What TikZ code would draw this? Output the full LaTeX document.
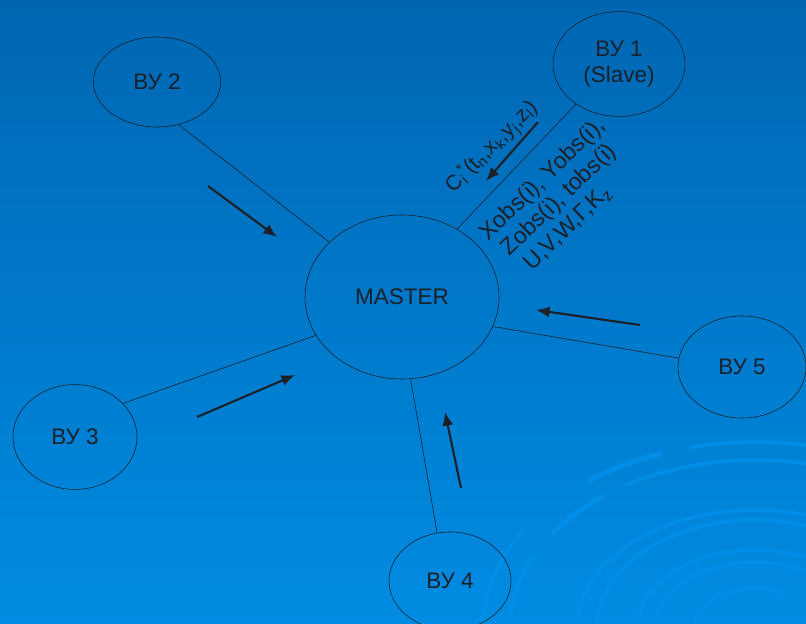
\documentclass[tikz,border=0pt]{standalone}
\usepackage{fontspec}
\setmainfont{Liberation Sans}
\usetikzlibrary{shapes.geometric,arrows.meta}
\definecolor{slidetop}{RGB}{0,102,178}
\definecolor{slidebottom}{RGB}{0,140,226}
\definecolor{swirl}{RGB}{0,142,232}
\definecolor{ink}{RGB}{28,32,40}
\tikzset{
  unit/.style={
    % The shape:
    ellipse,
    % The border:
    draw=ink,
    thin,
    inner sep=0pt,
    % Font
    text=ink,
    font=\fontsize{16}{18.5}\selectfont,
    align=center
  },
  link/.style={draw=ink, thin},
  flow/.style={draw=ink, line width=1.5pt, -{Latex[length=3.4mm,width=2.8mm]}},
  tag/.style={text=ink, font=\fontsize{16.5}{18.5}\selectfont, inner sep=0pt}
}

\begin{document}
\begin{tikzpicture}[x=0.025cm, y=-0.025cm]

  \useasboundingbox (0, 0) rectangle (806, 623);
  \clip (0, 0) rectangle (806, 623);
  \shade [top color=slidetop, bottom color=slidebottom] (0, 0) rectangle (806, 623);

  % swirl in the corner
  \begin{scope}[shift={(755, 628)}, swirl, line width=2.5pt]
    \draw (180:272 and 186) arc (180:212:272 and 186);
    \draw [line width=3.5pt] (232:272 and 186) arc (232:250:272 and 186);
    \draw (256:272 and 186) arc (256:300:272 and 186);
    \draw (180:245 and 168) arc (180:205:245 and 168);
    \draw [line width=3.5pt] (214:245 and 168) arc (214:232:245 and 168);
    \draw (238:245 and 168) arc (238:300:245 and 168);
    \draw (180:178 and 118) arc (180:300:178 and 118);
    \draw (180:158 and 108) arc (180:300:158 and 108);
    \draw (180:118 and 78) arc (180:300:118 and 78);
    \draw (180:100 and 66) arc (180:300:100 and 66);
    \draw (180:60 and 40) arc (180:300:60 and 40);
  \end{scope}

  \node at (402, 297) (master) [unit, minimum width=4.85cm, minimum height=4.1cm] {MASTER};

  \node at (619, 64) (v1) [unit, minimum width=3.3cm, minimum height=2.62cm] {ВУ 1\\(Slave)};
  \node at (157, 82) (v2) [unit, minimum width=3.18cm, minimum height=2.25cm] {ВУ 2};
  \node at (75, 437) (v3) [unit, minimum width=3.1cm, minimum height=2.62cm] {ВУ 3};
  \node at (450, 581) (v4) [unit, minimum width=3.05cm, minimum height=2.45cm] {ВУ 4};
  \node at (742, 367) (v5) [unit, minimum width=3.2cm, minimum height=2.55cm] {ВУ 5};

  \draw [link] (v1.223) to (master.51);
  \draw [link] (v2.-63) to (master.143);
  \draw [link] (v3.35) to (master.204);
  \draw [link] (v4.105) to (master.-84);
  \draw [link] (v5.172) to (master.-18);

  \coordinate (a1 tail) at (538, 122);
  \coordinate (a1 head) at (486, 181);
  \coordinate (a2 tail) at (208, 186);
  \coordinate (a2 head) at (277, 237);
  \coordinate (a3 tail) at (197, 417);
  \coordinate (a3 head) at (295, 375);
  \coordinate (a4 tail) at (461, 488);
  \coordinate (a4 head) at (445, 412);
  \coordinate (a5 tail) at (640, 325);
  \coordinate (a5 head) at (536, 310);

  \draw [flow] (a1 tail) to (a1 head);
  \draw [flow] (a2 tail) to (a2 head);
  \draw [flow] (a3 tail) to (a3 head);
  \draw [flow] (a4 tail) to (a4 head);
  \draw [flow] (a5 tail) to (a5 head);

  \node (request) [tag, font=\fontsize{15}{17}\selectfont, rotate=45] at (492, 147) {C\textsubscript{i}\textsuperscript{*}(t\textsubscript{n},x\textsubscript{k},y\textsubscript{j},z\textsubscript{l})};

  \node (reply) [tag, rotate=44, align=left] at (561, 198) {Xobs(i), Yobs(i),\\\hspace*{0.2em}Zobs(i), tobs(i)\\\hspace*{0.45em}U,V,W,Γ,K\textsubscript{z}};

\end{tikzpicture}
\end{document}
